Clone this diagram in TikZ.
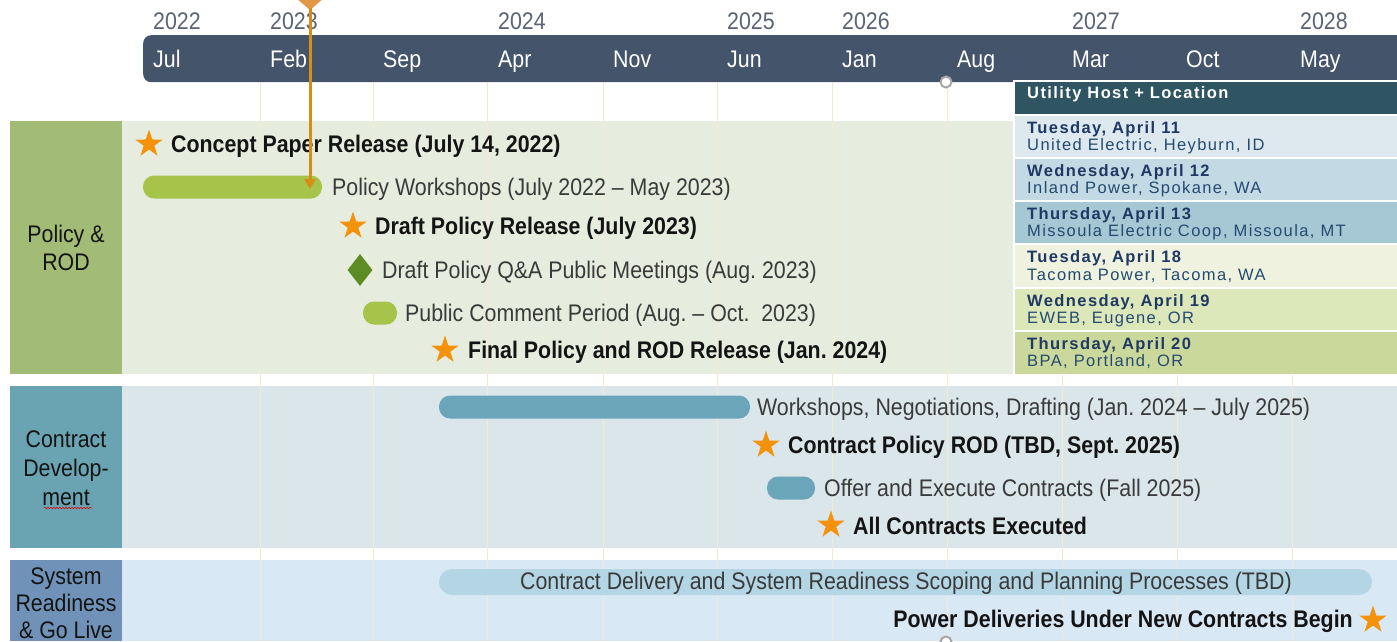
\documentclass[tikz,border=0pt]{standalone}
\usepackage{fontspec}
\setmainfont{Liberation Sans}
\newfontfamily\tf[FakeStretch=0.89]{Liberation Sans}
\newfontfamily\tblf[LetterSpace=8.5]{Liberation Sans}
\usetikzlibrary{shapes.geometric,arrows.meta,decorations.pathmorphing}
\definecolor{hdr}{HTML}{44546A}
\definecolor{yr}{HTML}{5C6473}
\definecolor{txt}{HTML}{3A3A3A}
\definecolor{btxt}{HTML}{141414}
\definecolor{polL}{HTML}{A2BB76}
\definecolor{polC}{HTML}{E6EDDE}
\definecolor{conL}{HTML}{6AA3B2}
\definecolor{conC}{HTML}{DAE6EA}
\definecolor{sysL}{HTML}{7092B8}
\definecolor{sysC}{HTML}{D9E8F5}
\definecolor{gbar}{HTML}{A6C34A}
\definecolor{dia}{HTML}{5E8C24}
\definecolor{cbar}{HTML}{6BA5BA}
\definecolor{sbar}{HTML}{B3D5E4}
\definecolor{starc}{HTML}{F5920C}
\definecolor{mkc}{HTML}{E29646}
\definecolor{arrc}{HTML}{D68F14}
\definecolor{gridc}{HTML}{F4E9D2}
\definecolor{thdr}{HTML}{2F5462}
\definecolor{tA}{HTML}{DDE9EF}
\definecolor{tB}{HTML}{C3D9E3}
\definecolor{tC}{HTML}{A6C8D5}
\definecolor{tD}{HTML}{EEF2DE}
\definecolor{tE}{HTML}{DCE7BA}
\definecolor{tF}{HTML}{CAD99B}
\definecolor{tbold}{HTML}{1F3864}
\definecolor{treg}{HTML}{244A70}
\frenchspacing
\begin{document}
\begin{tikzpicture}[x=1pt,y=-1pt,
  lbl/.style={anchor=west,inner sep=0pt,text=txt,font=\tf\fontsize{24}{28}\selectfont},
  blbl/.style={anchor=west,inner sep=0pt,text=btxt,font=\tf\bfseries\fontsize{24}{28}\selectfont},
  mon/.style={lbl,anchor=base west,text=white},
  yrl/.style={lbl,anchor=base west,text=yr},
  side/.style={inner sep=0pt,text=btxt,align=center,font=\tf\fontsize{24}{29}\selectfont},
  band/.style={anchor=north west,inner sep=0pt,draw=none},
  bar/.style={inner sep=0pt,minimum height=23pt,rounded corners=11pt,draw=none},
  mstar/.style={star,star points=5,star point ratio=2.6,fill=starc,draw=none,minimum size=29pt,inner sep=0pt},
  trow/.style={anchor=north west,inner sep=0pt,minimum width=382pt,minimum height=41pt,draw=none},
  tb/.style={anchor=west,inner sep=0pt,text=tbold,font=\tblf\bfseries\fontsize{16.5}{18}\selectfont},
  tr/.style={anchor=west,inner sep=0pt,text=treg,font=\tblf\fontsize{16.5}{18}\selectfont},
  dot/.style={circle,fill=white,draw=gray!70,line width=2pt,minimum size=11pt,inner sep=0pt}]
\useasboundingbox (0,0) rectangle (1397,641);
\fill[white] (0,0) rectangle (1397,641);
% bands
\node[band,fill=polC,minimum width=1275pt,minimum height=253pt] (polc) at (122,121) {};
\node[band,fill=conC,minimum width=1275pt,minimum height=162pt] (conc) at (122,386) {};
\node[band,fill=sysC,minimum width=1275pt,minimum height=81pt] (sysc) at (122,560) {};
\node[band,fill=polL,minimum width=112pt,minimum height=253pt] (poll) at (10,121) {};
\node[band,fill=conL,minimum width=112pt,minimum height=162pt] (conl) at (10,386) {};
\node[band,fill=sysL,minimum width=112pt,minimum height=81pt] (sysl) at (10,560) {};
\node[side,font=\tf\fontsize{24}{28}\selectfont] (polt) at (66,248) {Policy \&\\ROD};
\node[side] (cont) at (66,468) {Contract\\Develop-\\ment};
\node[side,font=\tf\fontsize{24}{27}\selectfont] (syst) at (66,603) {System\\Readiness\\\& Go Live};
\draw[red!85!black,line width=0.6pt,decorate,decoration={snake,amplitude=0.7pt,segment length=3pt}] (44,508) -- (92,508);
% grid lines
\foreach \gx in {260,373,487,603,717,832,947,1062,1177,1292}
  \draw[gridc,line width=1pt] (\gx,82) -- (\gx,641);
% header bar
\node[band,fill=hdr,rounded corners=8pt,minimum width=1270pt,minimum height=47pt] (hbar) at (143,35) {};
\foreach \mx/\mn/\nm in {153/Jul/m1,270/Feb/m2,383/Sep/m3,498/Apr/m4,613/Nov/m5,727/Jun/m6,842/Jan/m7,957/Aug/m8,1072/Mar/m9,1186/Oct/m10,1300/May/m11}
  \node[mon] (\nm) at (\mx,67) {\mn};
\foreach \yx/\yn/\nm in {153/2022/y1,270/2023/y2,498/2024/y3,727/2025/y4,842/2026/y5,1072/2027/y6,1300/2028/y7}
  \node[yrl] (\nm) at (\yx,29) {\yn};
\node[dot] (dtop) at (946,82) {};
\node[dot] (dbot) at (946,642) {};
% table
\node[band,fill=white,minimum width=384pt,minimum height=295pt] (tbg) at (1013,80) {};
\node[band,fill=thdr,minimum width=382pt,minimum height=32pt] (th) at (1015,82) {};
\node[tb,text=white] (tht) at (1027,94) {Utility Host + Location};
\node[trow,fill=tA] (r1) at (1015,116) {};
\node[trow,fill=tB] (r2) at (1015,159) {};
\node[trow,fill=tC] (r3) at (1015,202) {};
\node[trow,fill=tD,minimum height=42pt] (r4) at (1015,245) {};
\node[trow,fill=tE] (r5) at (1015,289) {};
\node[trow,fill=tF,minimum height=42pt] (r6) at (1015,332) {};
\node[tb] (r1a) at (1027,129) {Tuesday, April 11};
\node[tr] (r1b) at (1027,146) {United Electric, Heyburn, ID};
\node[tb] (r2a) at (1027,172) {Wednesday, April 12};
\node[tr] (r2b) at (1027,189) {Inland Power, Spokane, WA};
\node[tb] (r3a) at (1027,215) {Thursday, April 13};
\node[tr] (r3b) at (1027,232) {Missoula Electric Coop, Missoula, MT};
\node[tb] (r4a) at (1027,258) {Tuesday, April 18};
\node[tr] (r4b) at (1027,276) {Tacoma Power, Tacoma, WA};
\node[tb] (r5a) at (1027,302) {Wednesday, April 19};
\node[tr] (r5b) at (1027,319) {EWEB, Eugene, OR};
\node[tb] (r6a) at (1027,345) {Thursday, April 20};
\node[tr] (r6b) at (1027,362) {BPA, Portland, OR};
% policy rows
\node[mstar] (s1) at (149,144) {};
\node[blbl] (t1) at (171,146.5) {Concept Paper Release (July 14, 2022)};
\node[bar,fill=gbar,minimum width=179pt] (b1) at (232.5,187) {};
\node[lbl] (t2) at (332,189.5) {Policy Workshops (July 2022 – May 2023)};
\node[mstar] (s2) at (353,226) {};
\node[blbl] (t3) at (375,228.5) {Draft Policy Release (July 2023)};
\node[diamond,fill=dia,minimum width=25pt,minimum height=32pt,inner sep=0pt] (d1) at (360,270) {};
\node[lbl] (t4) at (382,272.5) {Draft Policy Q\&A Public Meetings (Aug. 2023)};
\node[bar,fill=gbar,minimum width=34pt] (b2) at (380,313) {};
\node[lbl] (t5) at (405,315.5) {Public Comment Period (Aug. – Oct.\ \ 2023)};
\node[mstar] (s3) at (445,350) {};
\node[blbl] (t6) at (468,352.5) {Final Policy and ROD Release (Jan. 2024)};
% contract rows
\node[bar,fill=cbar,minimum width=311pt] (b3) at (594.5,407) {};
\node[lbl] (t7) at (757,409.5) {Workshops, Negotiations, Drafting (Jan. 2024 – July 2025)};
\node[mstar] (s4) at (766,445) {};
\node[blbl] (t8) at (788,447.5) {Contract Policy ROD (TBD, Sept. 2025)};
\node[bar,fill=cbar,minimum width=48pt] (b4) at (791,488) {};
\node[lbl] (t9) at (824,490.5) {Offer and Execute Contracts (Fall 2025)};
\node[mstar] (s5) at (831,525) {};
\node[blbl] (t10) at (853,526) {All Contracts Executed};
% system rows
\node[bar,fill=sbar,minimum width=933pt,minimum height=26pt,rounded corners=13pt] (b5) at (905.5,582) {};
\node[lbl,anchor=center] (t11) at (906,583.5) {Contract Delivery and System Readiness Scoping and Planning Processes (TBD)};
\node[blbl,anchor=east] (t12) at (1353,621.5) {Power Deliveries Under New Contracts Begin};
\node[mstar] (s6) at (1373,620) {};
% today marker
\fill[mkc] (295,-3) -- (325,-3) -- (310,10) -- cycle;
\coordinate (mtip) at (310,8);
\coordinate (mend) at (310,189);
\draw[arrc,line width=3pt,-{Triangle[width=11pt,length=10pt]}] (mtip) -- (mend);
\end{tikzpicture}
\end{document}
